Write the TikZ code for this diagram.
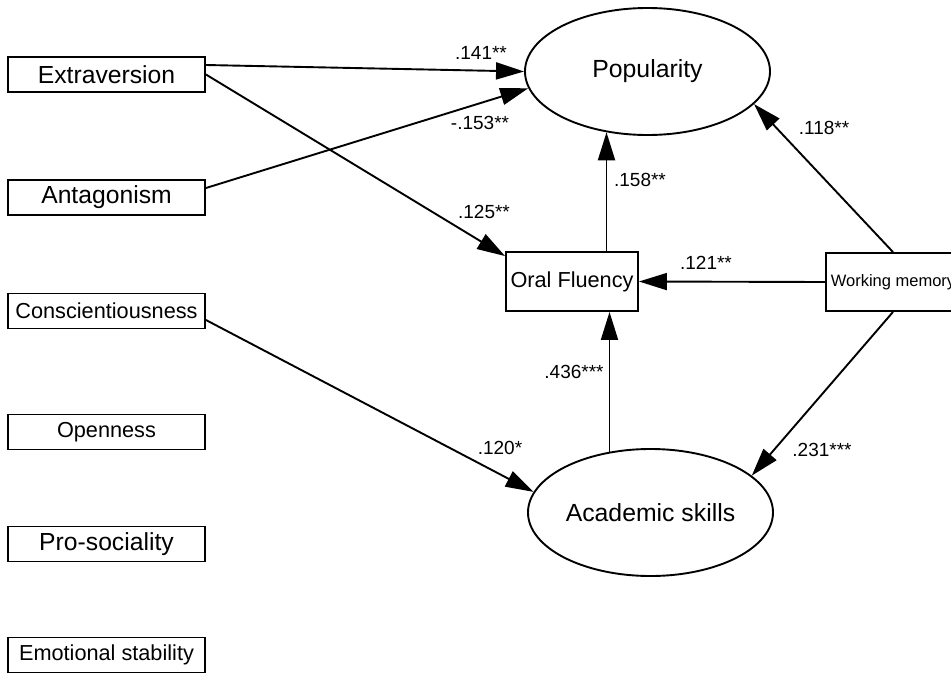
\documentclass[tikz,border=0pt]{standalone}
\usepackage{fontspec}
\setmainfont{Liberation Sans}
\usetikzlibrary{arrows.meta,shapes.geometric,calc}
\begin{document}
\begin{tikzpicture}[x=1pt,y=-1pt,
  lbox/.style={draw,line width=1.9pt,minimum width=197pt,minimum height=35pt,inner sep=0pt},
  big/.style={font=\fontsize{24.7}{28}\selectfont},
  mid/.style={font=\fontsize{21.7}{25}\selectfont},
  lat/.style={draw,ellipse,line width=1.9pt,minimum width=245pt,minimum height=127pt,inner sep=0pt,font=\fontsize{24.8}{28}\selectfont},
  conn/.style={line width=1.9pt,-{Triangle[length=28pt,width=17pt]}},
  coef/.style={font=\fontsize{19}{22}\selectfont,inner sep=0pt}
]
\useasboundingbox (0,0) rectangle (951,675);
\clip (0,0) rectangle (951,675);

\node[lbox,big] (ext) at (106.5,74.5) {Extraversion};
\node[lbox,big] (ant) at (106.5,197.5) {Antagonism};
\node[lbox,mid] (con) at (106.5,311) {Conscientiousness};
\node[lbox,mid] (ope) at (106.5,432) {Openness};
\node[lbox,big] (pro) at (106.5,544) {Pro-sociality};
\node[lbox,mid] (emo) at (106.5,655) {Emotional stability};

\node[lat] (pop) at (647.5,71.5) {\raisebox{-2pt}{Popularity}};
\node[lat] (acad) at (650.5,512.5) {Academic skills};
\node[draw,line width=1.9pt,minimum width=132pt,minimum height=59pt,inner sep=0pt,mid] (oral) at (572,281.5) {Oral Fluency};
\node[draw,line width=1.9pt,minimum width=134pt,minimum height=58pt,inner sep=0pt,font=\fontsize{16.5}{19}\selectfont] (wm) at (893,282) {Working memory};

\draw[conn] ($(ext.east)+(0,-9.5)$) -- (pop.west);
\draw[conn] ($(ant.east)+(0,-9.5)$) -- (pop.188);
\draw[conn] (ext.east) -- ($(oral.north west)+(0,5)$);
\draw[conn] ($(con.east)+(0,9)$) -- (acad.170.6);
\draw[conn] (oral.north -| pop.236.7) -- (pop.236.7);
\draw[conn] (acad.124) -- (acad.124 |- oral.south);
\draw[conn] (wm.west) -- (oral.east);
\draw[conn] (wm.north) -- (pop.343);
\draw[conn] (wm.south) -- (acad.20);

\node[coef] (c1) at (481,53) {.141**};
\node[coef] (c2) at (480,123) {-.153**};
\node[coef] (c3) at (484,212) {.125**};
\node[coef] (c4) at (640,180) {.158**};
\node[coef] (c5) at (824,128) {.118**};
\node[coef] (c6) at (706,263) {.121**};
\node[coef] (c7) at (574,372) {.436***};
\node[coef] (c8) at (500,448) {.120*};
\node[coef] (c9) at (822,450) {.231***};
\end{tikzpicture}
\end{document}
